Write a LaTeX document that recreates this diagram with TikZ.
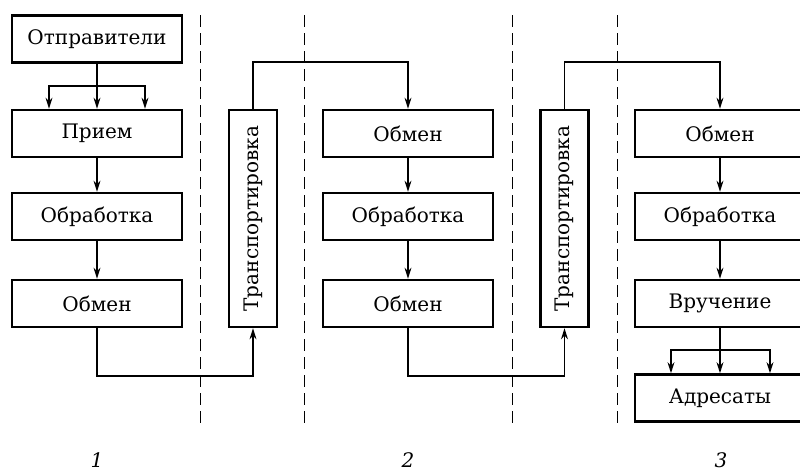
\documentclass[tikz,border=0pt]{standalone}
\usepackage{fontspec}
\setmainfont{DejaVu Serif}
\usetikzlibrary{arrows.meta}

\tikzset{
  box/.style={draw=black,line width=1.2pt,minimum width=85pt,minimum height=23.5pt,inner sep=2pt},
  trbox/.style={draw=black,line width=1.2pt,minimum width=24pt,minimum height=108.5pt,inner sep=0pt},
  arr/.style={-{Stealth[length=5.5pt,width=3.4pt]},line width=0.9pt},
  ln/.style={line width=0.9pt},
  sep/.style={line width=0.5pt,dash pattern=on 6pt off 3pt},
  num/.style={inner sep=0pt,font=\itshape}
}

\begin{document}
\begin{tikzpicture}[x=0.5pt,y=-0.5pt]
        \useasboundingbox (0,0) rectangle (800,471);
        % separators
        \foreach \xs in {200,304,512,617}
            \draw[sep] (\xs,15) -- (\xs,428);
        % stage 1
        \node[box] (otp) at (97,39) {Отправители};
        \node[box] (pri) at (97,133.5) {Прием};
        \node[box] (obr1) at (97,216.5) {Обработка};
        \node[box] (obm1) at (97,303.5) {Обмен};
        \node[trbox] (tr1) at (253,218.5) {\rotatebox{90}{Транспортировка}};
        % stage 2
        \node[box] (obm2) at (408,133.5) {Обмен};
        \node[box] (obr2) at (408,216.5) {Обработка};
        \node[box] (obm3) at (408,303.5) {Обмен};
        \node[trbox] (tr2) at (564.5,218.5) {\rotatebox{90}{Транспортировка}};
        % stage 3
        \node[box] (obm4) at (720,133.5) {Обмен};
        \node[box] (obr3) at (720,216.5) {Обработка};
        \node[box] (vru) at (720,303.5) {Вручение};
        \node[box] (adr) at (720,398) {Адресаты};
        % numbers
        \node[num] (n1) at (97,460) {1};
        \node[num] (n2) at (408,460) {2};
        \node[num] (n3) at (721,460) {3};
        % connectors
        \coordinate (s1) at (97,86);
        \coordinate (s2) at (720,350);
        \draw[ln] (otp) -- (s1);
        \draw[arr] (s1) -| ([xshift=-24pt]pri.north);
        \draw[arr] (s1) -| ([xshift=24pt]pri.north);
        \draw[arr] (s1) -- (pri);
        \draw[arr] (pri) -- (obr1);
        \draw[arr] (obr1) -- (obm1);
        \draw[arr] (obm1.south) -- ++(0,48) -| (tr1.south);
        \draw[arr] (tr1.north) -- ++(0,-47) -| (obm2.north);
        \draw[arr] (obm2) -- (obr2);
        \draw[arr] (obr2) -- (obm3);
        \draw[arr] (obm3.south) -- ++(0,48) -| (tr2.south);
        \draw[arr] (tr2.north) -- ++(0,-47) -| (obm4.north);
        \draw[arr] (obm4) -- (obr3);
        \draw[arr] (obr3) -- (vru);
        \draw[ln] (vru) -- (s2);
        \draw[arr] (s2) -| ([xshift=-24.5pt]adr.north);
        \draw[arr] (s2) -| ([xshift=25pt]adr.north);
        \draw[arr] (s2) -- (adr);
    \end{tikzpicture}
\end{document}
